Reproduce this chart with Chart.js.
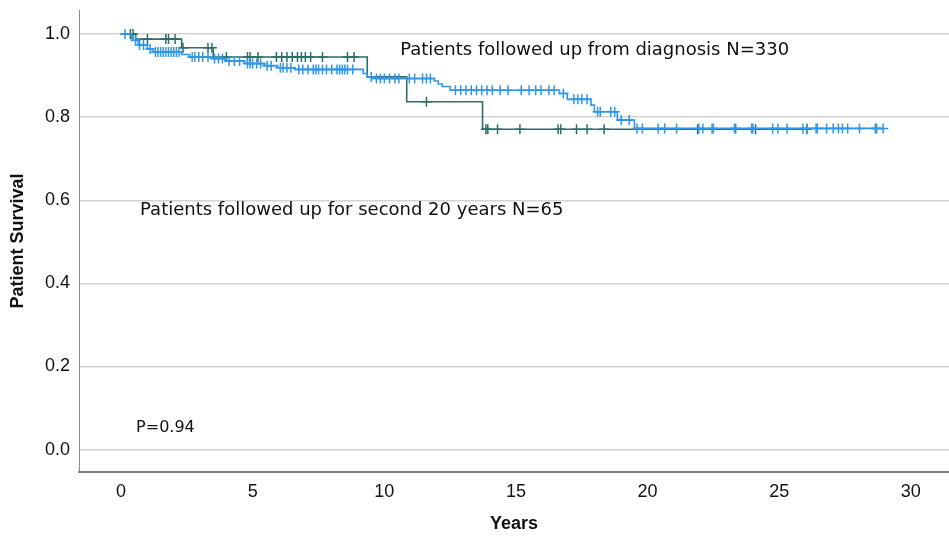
<!DOCTYPE html>
<html>
<head>
<meta charset="utf-8">
<script src="https://cdn.jsdelivr.net/npm/chart.js@4.4.1/dist/chart.umd.min.js"></script>
<style>
  html, body { margin: 0; padding: 0; background: #fff; }
  #wrap { width: 949px; height: 539px; }
</style>
</head>
<body>
<div id="wrap"><canvas id="km"></canvas></div>
<script>
// step points of the Kaplan-Meier curves (years, survival after the event)
const diagTimes = [0, 0.4, 0.65, 1.0, 1.2, 2.3, 2.6, 3.45, 3.95, 4.7, 5.45, 5.95, 6.6, 9.2, 9.35, 9.55, 11.9, 12.05, 12.2, 12.5, 16.65, 16.95, 17.85, 17.98, 18.85, 19.5, 28.95];
const diagSurv  = [1.0, 0.985, 0.974, 0.964, 0.957, 0.951, 0.945, 0.941, 0.935, 0.929, 0.924, 0.919, 0.915, 0.905, 0.897, 0.893, 0.887, 0.880, 0.874, 0.865, 0.857, 0.843, 0.829, 0.813, 0.793, 0.773, 0.773];
const diagCensored = [0.15, 0.55, 0.7, 0.85, 1.1, 1.3, 1.4, 1.5, 1.6, 1.7, 1.8, 1.9, 2.0, 2.1, 2.2, 2.7, 2.8, 2.95, 3.1, 3.3, 3.55, 3.7, 3.85, 4.1, 4.3, 4.5, 4.8, 4.9, 5.0, 5.15, 5.3, 5.55, 5.7, 6.05, 6.15, 6.3, 6.45, 6.75, 6.9, 7.1, 7.3, 7.4, 7.5, 7.65, 7.8, 8.0, 8.2, 8.3, 8.4, 8.5, 8.6, 8.8, 9.5, 9.7, 9.85, 10.0, 10.2, 10.4, 10.55, 10.95, 11.15, 11.45, 11.6, 11.75, 12.7, 12.9, 13.1, 13.3, 13.5, 13.7, 13.9, 14.1, 14.4, 14.7, 15.2, 15.5, 15.75, 15.95, 16.25, 16.45, 16.8, 17.2, 17.35, 17.5, 17.7, 18.1, 18.2, 18.6, 18.75, 19.0, 19.3, 19.6, 19.8, 20.4, 20.65, 21.1, 21.95, 22.1, 22.45, 22.5, 23.3, 23.35, 23.95, 24.0, 24.75, 24.95, 25.3, 25.9, 26.05, 26.4, 26.45, 26.8, 27.05, 27.25, 27.4, 27.6, 28.05, 28.65, 28.7, 28.95];

const secondTimes = [0, 0.55, 2.3, 3.5, 9.35, 10.85, 13.73, 26.05];
const secondSurv  = [1.0, 0.988, 0.967, 0.945, 0.897, 0.837, 0.771, 0.771];
const secondCensored = [0.35, 0.45, 1.0, 1.7, 1.8, 2.05, 2.35, 3.3, 3.45, 4.0, 4.8, 4.9, 5.2, 5.9, 6.1, 6.3, 6.5, 6.7, 6.85, 7.0, 7.2, 7.65, 8.6, 8.85, 11.6, 13.86, 13.93, 14.3, 15.15, 16.6, 16.7, 17.3, 17.7, 18.35, 21.9, 24.1, 26.05];

const xTicks = [0, 5, 10, 15, 20, 25, 30];
const yTicks = [0, 0.2, 0.4, 0.6, 0.8, 1.0];

const noteTexts = ["Patients followed up from diagnosis N=330", "Patients followed up for second 20 years N=65", "P=0.94"];
const noteX = [10.6, 0.72, 0.57];
const noteY = [0.96, 0.575, 0.052];

const BLUE = "#2f96e8";
const GREEN = "#2b6f66";

function survAt(times, surv, t) {
  let s = surv[0];
  for (let i = 0; i < times.length; i++) {
    if (times[i] <= t) s = surv[i];
  }
  return s;
}
const toPts = (xs, ys) => xs.map((x, i) => ({ x: x, y: ys[i] }));
const censorPts = (cs, times, surv) => cs.map(t => ({ x: t, y: survAt(times, surv, t) }));

// drop the extra room Chart.js keeps for half tick labels
function noEdgePadding(axis) {
  axis.paddingTop = 0;
  axis.paddingBottom = 0;
  axis.paddingLeft = 0;
  axis.paddingRight = 0;
}

const notesPlugin = {
  id: "notes",
  afterDatasetsDraw(chart) {
    const { ctx, scales } = chart;
    ctx.save();
    noteTexts.forEach((txt, i) => {
      ctx.font = i === 2 ? "16px 'DejaVu Sans'" : "18px 'DejaVu Sans'";
      ctx.fillStyle = "#111";
      ctx.textAlign = "left";
      ctx.textBaseline = "middle";
      ctx.fillText(txt, scales.x.getPixelForValue(noteX[i]), scales.y.getPixelForValue(noteY[i]));
    });
    ctx.restore();
  }
};

new Chart(document.getElementById("km"), {
  type: "line",
  data: {
    datasets: [
      {
        data: toPts(diagTimes, diagSurv),
        borderColor: BLUE,
        borderWidth: 1.6,
        stepped: true,
        pointRadius: 0,
        fill: false
      },
      {
        type: "scatter",
        data: censorPts(diagCensored, diagTimes, diagSurv),
        pointStyle: "cross",
        pointRadius: 5,
        borderColor: BLUE,
        borderWidth: 1.5,
        showLine: false
      },
      {
        data: toPts(secondTimes, secondSurv),
        borderColor: GREEN,
        borderWidth: 1.6,
        stepped: true,
        pointRadius: 0,
        fill: false
      },
      {
        type: "scatter",
        data: censorPts(secondCensored, secondTimes, secondSurv),
        pointStyle: "cross",
        pointRadius: 5,
        borderColor: GREEN,
        borderWidth: 1.5,
        showLine: false
      }
    ]
  },
  options: {
    responsive: true,
    maintainAspectRatio: false,
    animation: false,
    layout: { autoPadding: false, padding: { top: 10, right: 0, left: 0, bottom: 0 } },
    plugins: { legend: { display: false }, tooltip: { enabled: false } },
    scales: {
      x: {
        type: "linear",
        min: -1.6,
        max: 31.45,
        afterBuildTicks: (axis) => { axis.ticks = xTicks.map(v => ({ value: v })); },
        afterFit: (axis) => { axis.height = 67; noEdgePadding(axis); },
        grid: { display: false, drawTicks: false },
        border: { display: true, color: "#808080", width: 2 },
        ticks: { color: "#111", font: { family: "'Liberation Sans'", size: 18 }, padding: 9, maxRotation: 0 },
        title: { display: true, text: "Years", color: "#111", font: { family: "'Liberation Sans'", size: 18, weight: "bold" }, padding: { top: 0, bottom: 4 } }
      },
      y: {
        min: -0.054,
        max: 1.058,
        afterBuildTicks: (axis) => { axis.ticks = yTicks.map(v => ({ value: v })); },
        afterFit: (axis) => { axis.width = 79; noEdgePadding(axis); },
        grid: { color: "#d2d2d2", lineWidth: 1.5, drawTicks: false },
        border: { display: true, color: "#8a8a8a", width: 1 },
        ticks: { color: "#111", font: { family: "'Liberation Sans'", size: 18 }, padding: 9, callback: (v) => v.toFixed(1) },
        title: { display: true, text: "Patient Survival", color: "#111", font: { family: "'Liberation Sans'", size: 18, weight: "bold" }, padding: { top: 7, bottom: 0 } }
      }
    }
  },
  plugins: [notesPlugin]
});
</script>
</body>
</html>
